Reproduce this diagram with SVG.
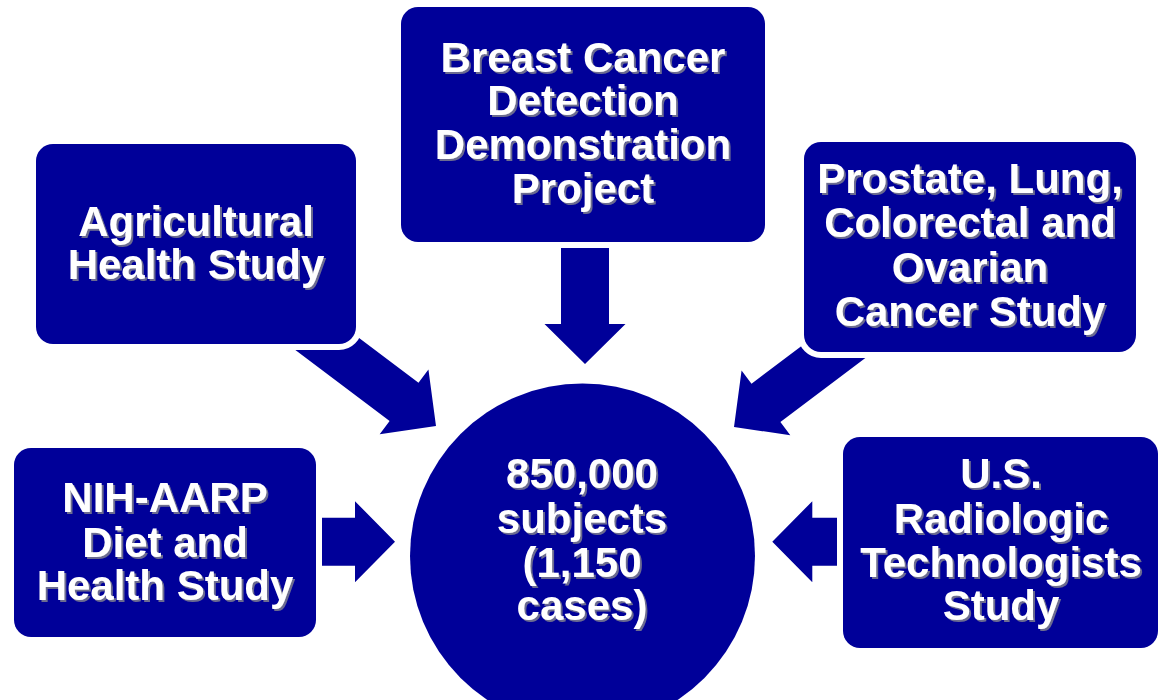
<svg xmlns="http://www.w3.org/2000/svg" width="1160" height="700" viewBox="0 0 1160 700">
  <style>
    .box { fill: #000099; stroke: #ffffff; stroke-width: 12; paint-order: stroke; }
    .arrow { fill: #000099; }
    .label { font-family: "Liberation Sans", Arial, sans-serif; font-weight: bold; font-size: 42px; fill: #ffffff; text-anchor: middle; filter: url(#textShadow); }
  </style>
  <defs>
    <filter id="textShadow" x="-10%" y="-10%" width="120%" height="130%">
      <feDropShadow dx="2" dy="2" stdDeviation="0.6" flood-color="#6c6c90" flood-opacity="1"/>
    </filter>
    <!-- block arrow pointing along +x, tip at the origin -->
    <path id="blockArrow" d="M0,0 L-40,-40.5 L-40,-24 L-200,-24 L-200,24 L-40,24 L-40,40.5 Z"/>
  </defs>

  <rect x="0" y="0" width="1160" height="700" fill="#ffffff"/>

  <!-- connectors: drawn first so the box borders cut their tails -->
  <g id="connectors" class="arrow">
    <use href="#blockArrow" transform="translate(585,364) rotate(90)"/>
    <use href="#blockArrow" transform="translate(436,426) rotate(37)"/>
    <use href="#blockArrow" transform="translate(734,427) rotate(143)"/>
    <use href="#blockArrow" transform="translate(395,541.7)"/>
    <use href="#blockArrow" transform="translate(772.3,541.7) rotate(180)"/>
  </g>

  <g id="node-bcddp">
    <rect class="box" x="401" y="7" width="364" height="235" rx="17"/>
    <text class="label" x="583" y="72">Breast Cancer</text>
    <text class="label" x="583" y="115">Detection</text>
    <text class="label" x="583" y="159">Demonstration</text>
    <text class="label" x="583" y="203">Project</text>
  </g>

  <g id="node-ahs">
    <rect class="box" x="36" y="144" width="320" height="200" rx="17"/>
    <text class="label" x="196" y="236">Agricultural</text>
    <text class="label" x="196" y="279">Health Study</text>
  </g>

  <g id="node-plco">
    <rect class="box" x="804" y="142" width="332" height="210" rx="17"/>
    <text class="label" x="970" y="193">Prostate, Lung,</text>
    <text class="label" x="970" y="237">Colorectal and</text>
    <text class="label" x="970" y="282">Ovarian</text>
    <text class="label" x="970" y="326">Cancer Study</text>
  </g>

  <g id="node-nih-aarp">
    <rect class="box" x="14" y="448" width="302" height="189" rx="17"/>
    <text class="label" x="165" y="512">NIH-AARP</text>
    <text class="label" x="165" y="557">Diet and</text>
    <text class="label" x="165" y="600">Health Study</text>
  </g>

  <g id="node-usrt">
    <rect class="box" x="843" y="437" width="315" height="211" rx="17"/>
    <text class="label" x="1001" y="488">U.S.</text>
    <text class="label" x="1001" y="533">Radiologic</text>
    <text class="label" x="1001" y="577">Technologists</text>
    <text class="label" x="1001" y="620">Study</text>
  </g>

  <g id="node-pooled">
    <circle class="box" cx="582.5" cy="556" r="172.5"/>
    <text class="label" x="582" y="488">850,000</text>
    <text class="label" x="582" y="533">subjects</text>
    <text class="label" x="582" y="577">(1,150</text>
    <text class="label" x="582" y="620">cases)</text>
  </g>
</svg>
